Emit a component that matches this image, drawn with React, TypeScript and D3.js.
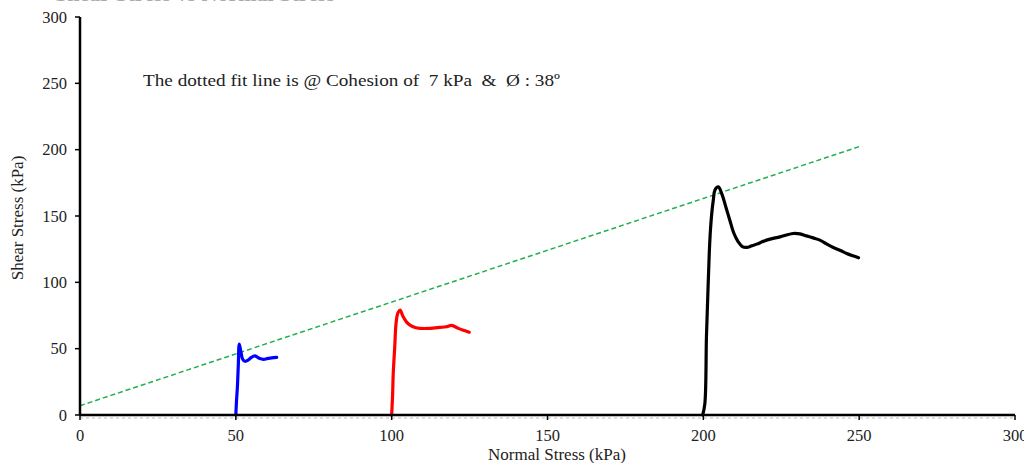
import React from "react";
import * as d3 from "d3";

const xTicks = [0, 50, 100, 150, 200, 250, 300];
const yTicks = [0, 50, 100, 150, 200, 250, 300];

const blueX = [50, 50.2, 50.5, 50.8, 51.1, 51.6, 52.2, 52.9, 54, 55, 56.1, 57, 57.7, 59, 60, 61.5, 63.1];
const blueY = [0, 10, 21, 38, 53.5, 48, 42, 40.5, 41.5, 43.5, 44.5, 43.5, 42.5, 42, 42.5, 43, 43.5];

const redX = [100, 100.3, 100.5, 101, 101.4, 102, 102.7, 103.7, 104.8, 105.9, 107.5, 109.1, 112.3, 115.5, 117.5, 119.2, 121.4, 123, 124.9];
const redY = [0, 15, 31, 52, 69, 77, 79, 74, 70, 67.8, 66, 65.3, 65.3, 66, 66.5, 67.5, 65.3, 63.8, 62.3];

const blackX = [199.8, 200.5, 201, 201.5, 201.9, 202.3, 202.7, 203.2, 203.7, 204.8, 205.9, 207.2, 208.5, 209.8, 211.2, 212.5, 213.9, 215.5, 217.1, 220.3, 224.6, 228.8, 231, 233.1, 235.2, 237.4, 239.5, 241.7, 244, 246, 248, 249.8];
const blackY = [0, 8.8, 59, 95, 121.8, 140, 151.9, 162, 169.4, 171.9, 166.9, 157, 146.8, 137, 130.5, 127, 126.3, 127.5, 128.8, 131.8, 134.3, 136.8, 136.5, 135, 133.5, 131.8, 129, 126.3, 124, 121.8, 120, 118.5];

const fitX = [0, 250];
const fitY = [7, 202.3];

const annotation = "The dotted fit line is @ Cohesion of  7 kPa  &  Ø : 38º";

export default function App() {
  const W = 1024, H = 463;
  const x = d3.scaleLinear().domain([0, 300]).range([80, 1015]);
  const y = d3.scaleLinear().domain([0, 300]).range([415, 17]);
  const line = d3.line<[number, number]>().x(d => x(d[0])).y(d => y(d[1])).curve(d3.curveCatmullRom.alpha(0.5));
  const straight = d3.line<[number, number]>().x(d => x(d[0])).y(d => y(d[1]));
  const zip = (a: number[], b: number[]) => a.map((v, i) => [v, b[i]] as [number, number]);
  const font = "'Liberation Serif', 'Times New Roman', serif";

  return (
    <svg width={W} height={H} style={{ position: "absolute", left: 0, top: 0, background: "#fff" }} fontFamily={font}>
      <rect width={W} height={H} fill="#fff" />
      {/* clipped title */}
      <text x={335} y={1} textAnchor="end" fontSize={22} fontWeight="bold" fill="#aaa">Shear Stress vs Normal Stress</text>

      {/* faint dashed line under x axis */}
      <line x1={x(0)} x2={x(300)} y1={y(0) + 3} y2={y(0) + 3} stroke="#bbb" strokeWidth={1} strokeDasharray="3,3" />

      {/* fit line */}
      <path d={straight(zip(fitX, fitY)) || ""} fill="none" stroke="#22b04f" strokeWidth={1.5} strokeDasharray="5,3" />

      {/* curves */}
      <path d={line(zip(blueX, blueY)) || ""} fill="none" stroke="#0000ff" strokeWidth={3.2} strokeLinejoin="round" strokeLinecap="round" />
      <path d={line(zip(redX, redY)) || ""} fill="none" stroke="#ff0000" strokeWidth={3.2} strokeLinejoin="round" strokeLinecap="round" />
      <path d={line(zip(blackX, blackY)) || ""} fill="none" stroke="#000" strokeWidth={3.2} strokeLinejoin="round" strokeLinecap="round" />

      {/* axes */}
      <line x1={x(0)} x2={x(0)} y1={y(300)} y2={y(0)} stroke="#000" strokeWidth={2.5} />
      <line x1={x(0)} x2={x(300)} y1={y(0)} y2={y(0)} stroke="#000" strokeWidth={2.5} />
      {yTicks.map(t => (
        <g key={"y" + t}>
          <line x1={x(0) - 5} x2={x(0)} y1={y(t)} y2={y(t)} stroke="#000" strokeWidth={1.5} />
          <text x={67} y={y(t) + 5.5} textAnchor="end" fontSize={16.5} fill="#222">{t}</text>
        </g>
      ))}
      {xTicks.map(t => (
        <g key={"x" + t}>
          <line x1={x(t)} x2={x(t)} y1={y(0)} y2={y(0) + 5} stroke="#000" strokeWidth={1.5} />
          <text x={x(t)} y={441} textAnchor="middle" fontSize={16.5} fill="#222">{t}</text>
        </g>
      ))}

      <text x={557} y={460} textAnchor="middle" fontSize={17} fill="#222">Normal Stress (kPa)</text>
      <text transform={`translate(23, 218) rotate(-90)`} textAnchor="middle" fontSize={17} fill="#222">Shear Stress (kPa)</text>

      <text x={143} y={86} fontSize={17} fill="#222" style={{ whiteSpace: "pre" }} textLength={417} lengthAdjust="spacingAndGlyphs">{annotation}</text>
    </svg>
  );
}
